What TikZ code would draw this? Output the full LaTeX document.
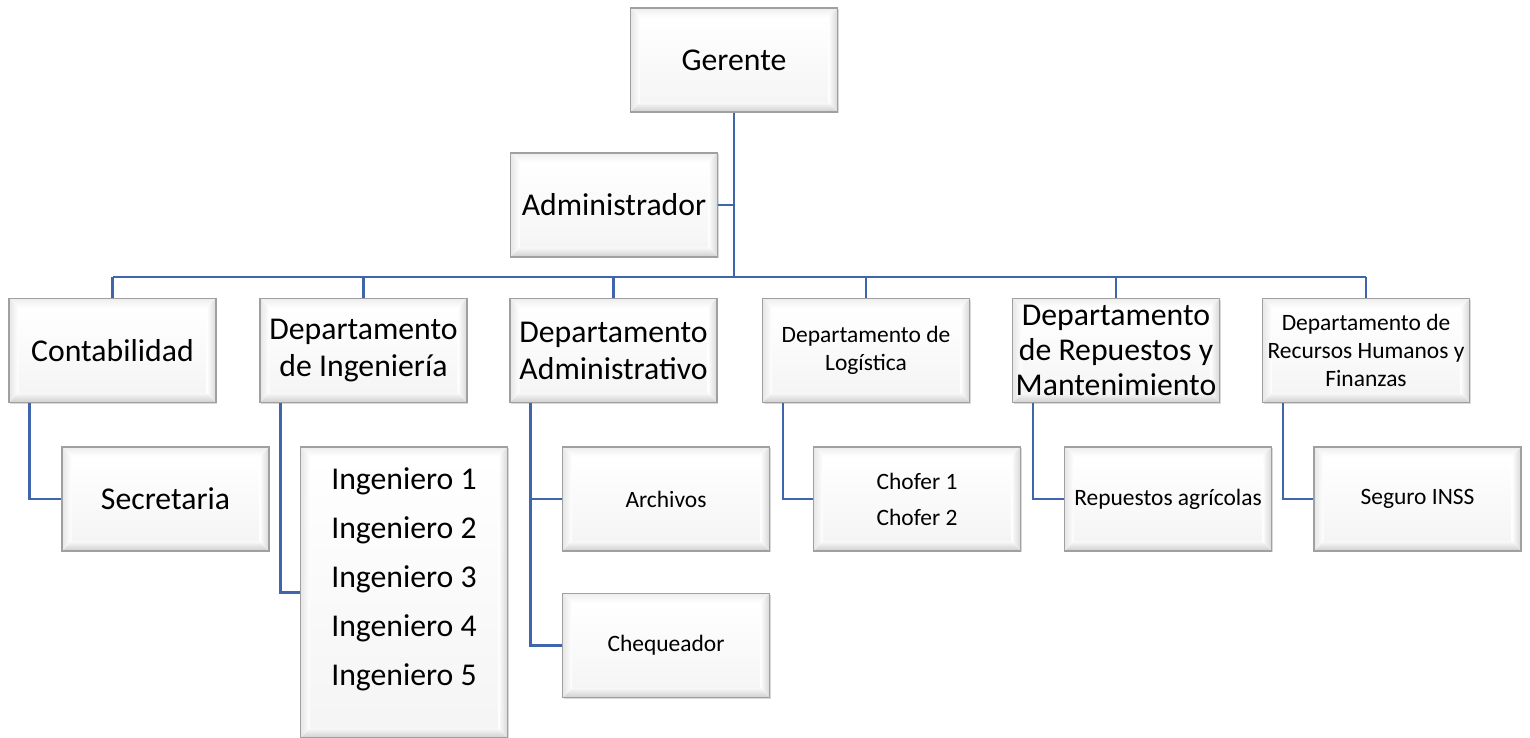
\documentclass[tikz,border=0pt]{standalone}
\usepackage{fontspec}
\setmainfont{Carlito}
\usetikzlibrary{shadows}
\definecolor{linkblue}{HTML}{3F65AD}
\definecolor{bordergray}{HTML}{A0A0A0}
\newcommand\fbig{\fontsize{23.8pt}{27.75pt}\selectfont}
\newcommand\fsmall{\fontsize{17.6pt}{21pt}\selectfont}
\tikzset{
  bevelbox/.style={draw=bordergray, line width=0.8pt, fill=white,
    minimum width=155.25pt, minimum height=78pt, inner sep=0pt, align=center, font=\fbig,
    drop shadow={shadow xshift=1pt, shadow yshift=-1pt, opacity=0.3, fill=gray},
    path picture={
      \coordinate (pnw) at (path picture bounding box.north west);
      \coordinate (pne) at (path picture bounding box.north east);
      \coordinate (psw) at (path picture bounding box.south west);
      \coordinate (pse) at (path picture bounding box.south east);
      \coordinate (inw) at ([xshift=7pt,yshift=-7pt]pnw);
      \coordinate (ine) at ([xshift=-7pt,yshift=-7pt]pne);
      \coordinate (isw) at ([xshift=7pt,yshift=7pt]psw);
      \coordinate (ise) at ([xshift=-7pt,yshift=7pt]pse);
      \fill[top color=white, bottom color=gray!8] (inw) rectangle (ise);
      \fill[top color=gray!14, bottom color=white] (pnw) -- (pne) -- (ine) -- (inw) -- cycle;
      \fill[left color=gray!20, right color=white] (pnw) -- (inw) -- (isw) -- (psw) -- cycle;
      \fill[left color=white, right color=gray!30] (pne) -- (ine) -- (ise) -- (pse) -- cycle;
      \fill[top color=gray!6, bottom color=gray!38] (psw) -- (isw) -- (ise) -- (pse) -- cycle;
    }},
  smallbox/.style={bevelbox, font=\fsmall},
  link/.style={draw=linkblue, line width=1.9pt},
}
\begin{document}
\begin{tikzpicture}[x=0.75pt, y=-0.75pt]
\useasboundingbox (0,0) rectangle (1530,738);

% top
\node[bevelbox] (ger) at (734,60) {Gerente};
\node[bevelbox] (adm) at (614,205) {Administrador};

% departments
\node[bevelbox] (cont) at (112.5,350.5) {Contabilidad};
\node[bevelbox] (ing) at (363.5,350.5) {Departamento\\de Ingeniería};
\node[bevelbox] (dadm) at (613.5,350.5) {Departamento\\Administrativo};
\node[smallbox] (log) at (866,350.5) {Departamento de\\Logística};
\node[bevelbox, font=\fontsize{23.8pt}{26pt}\selectfont] (rep) at (1116,350.5) {Departamento\\de Repuestos y\\Mantenimiento};
\node[smallbox] (rrhh) at (1366,350.5) {Departamento de\\Recursos Humanos y\\Finanzas};

% children
\node[bevelbox] (sec) at (165.5,499) {Secretaria};
\node[bevelbox, minimum height=218.25pt] (ingb) at (404,592.5) {};
\node[font=\fontsize{23.8pt}{36.75pt}\selectfont, align=center] (ingt) at (404,579) {Ingeniero 1\\Ingeniero 2\\Ingeniero 3\\Ingeniero 4\\Ingeniero 5};
\node[smallbox] (arch) at (666,499) {Archivos};
\node[smallbox] (cheq) at (666,645.5) {Chequeador};
\node[smallbox, font=\fontsize{17.6pt}{27pt}\selectfont] (chof) at (917,499) {Chofer 1\\Chofer 2};
\node[smallbox] (ragr) at (1168,499) {Repuestos agrícolas};
\node[smallbox] (ss) at (1417.5,499) {Seguro INSS};

% connectors
\coordinate (bus) at (734,277);
\draw[link] (ger.south) -- (bus);
\draw[link] (adm.east) -- (adm.east -| ger.south);
\draw[link] (bus -| cont.north) -- (bus -| rrhh.north);
\foreach \n in {cont,ing,dadm,log,rep,rrhh}{
  \draw[link] (bus -| \n.north) -- (\n.north);
}
\draw[link] ([xshift=15.75pt]cont.south west) |- (sec.west);
\draw[link] ([xshift=15.75pt]ing.south west) |- (ingb.west);
\draw[link] ([xshift=15.75pt]dadm.south west) |- (arch.west);
\draw[link] ([xshift=15.75pt]dadm.south west) |- (cheq.west);
\draw[link] ([xshift=15.75pt]log.south west) |- (chof.west);
\draw[link] ([xshift=15.75pt]rep.south west) |- (ragr.west);
\draw[link] ([xshift=15.75pt]rrhh.south west) |- (ss.west);
\end{tikzpicture}
\end{document}
